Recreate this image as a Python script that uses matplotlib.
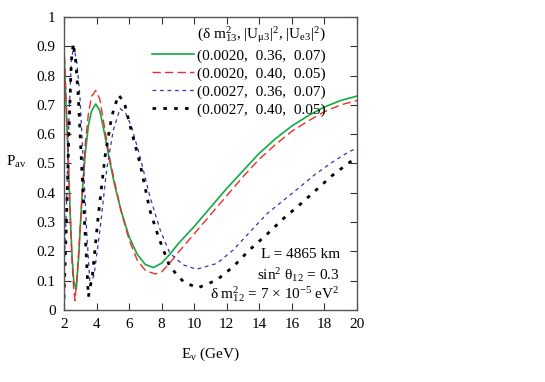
import matplotlib
matplotlib.use("Agg")
import matplotlib.pyplot as plt

# ---- data ----
E_green = [2.0, 2.1, 2.2, 2.3, 2.4, 2.5, 2.6, 2.75, 2.9, 3.1, 3.3, 3.5, 3.7, 3.95, 4.2, 4.5, 4.8, 5.1, 5.5, 6.0, 6.5, 7.0, 7.5, 8.0, 8.5, 9.0, 10.0, 11.0, 12.0, 13.0, 14.0, 15.0, 16.0, 17.0, 18.0, 19.0, 20.0]
P_green = [0.88, 0.74, 0.6, 0.45, 0.3, 0.18, 0.1, 0.07, 0.18, 0.38, 0.53, 0.63, 0.68, 0.703, 0.68, 0.6, 0.51, 0.43, 0.34, 0.25, 0.19, 0.155, 0.145, 0.16, 0.19, 0.225, 0.285, 0.35, 0.415, 0.475, 0.535, 0.585, 0.628, 0.663, 0.693, 0.715, 0.73]

E_red = [2.0, 2.1, 2.2, 2.3, 2.4, 2.5, 2.6, 2.68, 2.85, 3.1, 3.3, 3.5, 3.7, 3.95, 4.2, 4.5, 4.8, 5.1, 5.5, 6.0, 6.5, 7.0, 7.6, 8.0, 8.5, 9.0, 10.0, 11.0, 12.0, 13.0, 14.0, 15.0, 16.0, 17.0, 18.0, 19.0, 20.0]
P_red = [0.91, 0.76, 0.62, 0.46, 0.3, 0.16, 0.07, 0.032, 0.15, 0.38, 0.56, 0.67, 0.73, 0.749, 0.72, 0.62, 0.52, 0.44, 0.34, 0.24, 0.17, 0.135, 0.123, 0.13, 0.16, 0.195, 0.26, 0.325, 0.39, 0.455, 0.515, 0.565, 0.61, 0.645, 0.677, 0.7, 0.715]

E_blue = [2.0, 2.15, 2.3, 2.45, 2.6, 2.8, 2.98, 3.19, 3.39, 3.6, 3.85, 4.21, 4.62, 5.03, 5.45, 5.8, 6.15, 6.67, 7.28, 7.9, 8.5, 9.33, 10.15, 11.4, 12.4, 13.4, 14.5, 15.5, 16.5, 17.5, 18.5, 19.5, 20.0]
P_blue = [0.13, 0.35, 0.65, 0.85, 0.9, 0.84, 0.728, 0.5, 0.273, 0.085, 0.12, 0.273, 0.478, 0.614, 0.688, 0.67, 0.626, 0.523, 0.387, 0.275, 0.194, 0.154, 0.139, 0.159, 0.205, 0.265, 0.33, 0.375, 0.42, 0.466, 0.505, 0.54, 0.552]

E_black = [2.0, 2.15, 2.3, 2.45, 2.57, 2.72, 2.88, 3.08, 3.29, 3.5, 3.75, 4.1, 4.52, 4.93, 5.34, 5.7, 6.1, 6.67, 7.28, 7.8, 8.5, 9.33, 10.2, 11.38, 12.4, 13.4, 14.5, 15.5, 16.5, 17.5, 18.5, 19.6, 20.0]
P_black = [0.04, 0.3, 0.6, 0.85, 0.91, 0.85, 0.728, 0.5, 0.273, 0.045, 0.12, 0.318, 0.523, 0.66, 0.734, 0.71, 0.62, 0.5, 0.34, 0.25, 0.148, 0.097, 0.075, 0.102, 0.148, 0.205, 0.26, 0.313, 0.36, 0.41, 0.46, 0.506, 0.52]

labels = ["(0.0020,  0.36,  0.07)", "(0.0020,  0.40,  0.05)",
          "(0.0027,  0.36,  0.07)", "(0.0027,  0.40,  0.05)"]
legend_title = r'(δ m$^2_{13}$, |U$_{\mu3}$|$^2$, |U$_{\mathrm{e3}}$|$^2$)'
x_ticks = [2, 4, 6, 8, 10, 12, 14, 16, 18, 20]
y_ticks = [0, 0.1, 0.2, 0.3, 0.4, 0.5, 0.6, 0.7, 0.8, 0.9, 1]
y_ticklabels = ["0", "0.1", "0.2", "0.3", "0.4", "0.5", "0.6", "0.7", "0.8", "0.9", "1"]

plt.rcParams['font.family'] = ['Liberation Serif', 'DejaVu Serif']
plt.rcParams['mathtext.fontset'] = 'custom'
plt.rcParams['mathtext.rm'] = 'Liberation Serif'
plt.rcParams['mathtext.it'] = 'Liberation Serif'
plt.rcParams['mathtext.bf'] = 'Liberation Serif:bold'
plt.rcParams['font.size'] = 11

fig = plt.figure(figsize=(5.45, 3.82), dpi=100)
ax = fig.add_axes([0.1174, 0.1885, 0.5376, 0.767])

ax.plot(E_green, P_green, color='#11aa44', lw=1.2, ls='-', label=labels[0])
ax.plot(E_red, P_red, color='#ee2b2b', lw=1.0, ls=(0, (6, 3)), label=labels[1])
ax.plot(E_blue, P_blue, color='#3535b0', lw=0.9, ls=(0, (3, 3)), label=labels[2])
ax.plot(E_black, P_black, color='black', lw=2.0, ls=(0, (1.3, 2.6)), label=labels[3])

ax.set_xlim(2, 20)
ax.set_ylim(0, 1)
ax.set_xticks(x_ticks)
ax.set_yticks(y_ticks)
ax.set_yticklabels(y_ticklabels)
ax.tick_params(direction='in', top=True, right=True, length=5, width=0.8,
               labelsize=11, color='#333333', pad=6)
for s in ax.spines.values():
    s.set_color('#555555')
    s.set_linewidth(1.0)

ax.set_xlabel(r'E$_\nu$ (GeV)', fontsize=11, labelpad=10)
ax.set_ylabel(r'P$_{\rm av}$', fontsize=11, rotation=0, va='center', ha='right')
ax.yaxis.set_label_coords(-0.126, 0.505)

leg = ax.legend(loc='upper left', bbox_to_anchor=(0.302, 0.892),
                frameon=False, fontsize=11,
                handlelength=2.75, handletextpad=0.15, labelspacing=0.28,
                borderaxespad=0.0, borderpad=0.0)
ax.text(0.455, 0.94, legend_title, transform=ax.transAxes, ha='left', va='center', fontsize=11)

ax.text(0.942, 0.191, 'L = 4865 km', transform=ax.transAxes, ha='right', va='center', fontsize=11)
ax.text(0.942, 0.119, r'sin$^2$ θ$_{12}$ = 0.3', transform=ax.transAxes, ha='right', va='center', fontsize=11)
ax.text(0.942, 0.054, r'δ m$^2_{12}$ = 7 × 10$^{-5}$ eV$^2$', transform=ax.transAxes, ha='right', va='center', fontsize=11)

fig.savefig('out.png', dpi=100)
